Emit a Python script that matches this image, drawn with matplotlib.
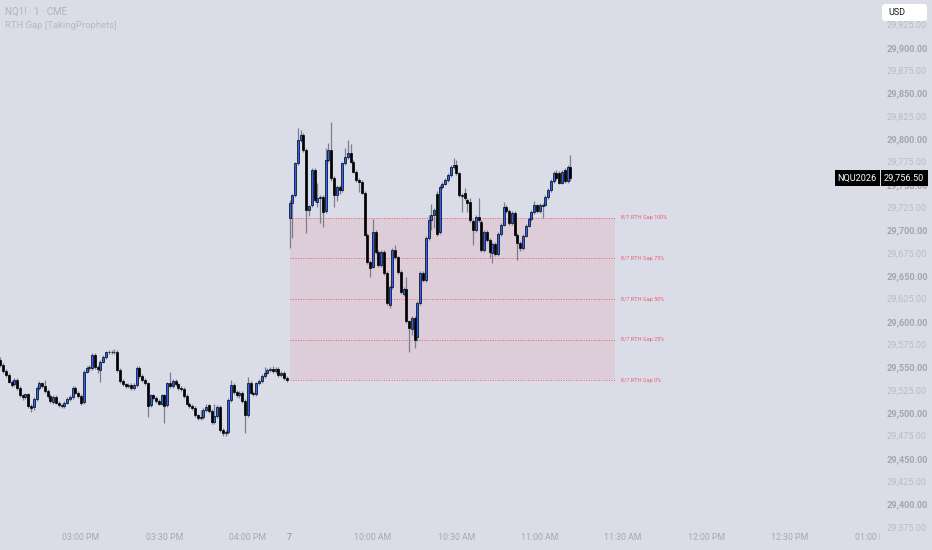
import numpy as np
import matplotlib.pyplot as plt
from matplotlib.patches import Rectangle, FancyBboxPatch

plt.rcParams['font.family'] = ['Roboto', 'DejaVu Sans']

BG = '#dadde8'
UP = '#2962ff'
WICK = '#7b7e88'
RED = '#f23645'

# 1-minute NQ bars: 14:31-16:14 of the prior session, then RTH from 09:30
OPENS = [
    29558, 29552, 29546, 29541, 29534, 29531, 29536, 29527, 29519, 29517,
    29520, 29507, 29506, 29515, 29527, 29532, 29529, 29524, 29518, 29512,
    29517, 29511, 29508, 29507, 29511, 29515, 29517, 29527, 29522, 29518,
    29512, 29545, 29549, 29549, 29563, 29550, 29547, 29556, 29561, 29566,
    29567, 29566, 29567, 29547, 29535, 29531, 29529, 29530, 29527, 29530,
    29549, 29540, 29536, 29532, 29508, 29519, 29516, 29513, 29510, 29519,
    29508, 29532, 29529, 29535, 29531, 29527, 29526, 29518, 29510, 29507,
    29505, 29497, 29494, 29495, 29503, 29508, 29502, 29490, 29496, 29506,
    29481, 29478, 29479, 29514, 29530, 29523, 29519, 29522, 29513, 29497,
    29533, 29522, 29520, 29532, 29535, 29540, 29544, 29547, 29548, 29546,
    29548, 29541, 29544, 29538,
    29713.25, 29730, 29738, 29773, 29799, 29804, 29788, 29722, 29727, 29766,
    29731, 29735, 29736, 29721, 29777, 29788, 29757, 29738, 29747, 29744,
    29773, 29780, 29784, 29775, 29764, 29755, 29753, 29741, 29695, 29665,
    29660, 29698, 29676, 29662, 29676, 29653, 29618, 29638, 29678, 29670,
    29654, 29630, 29636, 29600, 29592, 29604, 29583, 29620, 29653, 29645,
    29691, 29711, 29716, 29740, 29698, 29747, 29751, 29755, 29760, 29769,
    29771, 29762, 29738, 29741, 29733, 29731, 29710, 29700, 29714, 29709,
    29678, 29698, 29689, 29675, 29685, 29674, 29696, 29706, 29725, 29721,
    29708, 29719, 29695, 29686, 29680, 29694, 29705, 29712, 29720, 29727,
    29721, 29726, 29728, 29736, 29744, 29754, 29763, 29762, 29752, 29766,
    29754, 29769,
]
HIGHS = [
    29561, 29554, 29548, 29543, 29536, 29538, 29538, 29529, 29521, 29522,
    29522, 29509, 29517, 29529, 29535, 29534, 29536, 29526, 29520, 29519,
    29519, 29513, 29510, 29513, 29517, 29519, 29529, 29529, 29524, 29520,
    29547, 29551, 29552, 29565, 29565, 29552, 29558, 29563, 29568, 29569,
    29569, 29570, 29569, 29549, 29537, 29533, 29532, 29532, 29532, 29551,
    29551, 29542, 29538, 29534, 29521, 29521, 29518, 29515, 29521, 29521,
    29534, 29545, 29537, 29537, 29533, 29529, 29528, 29520, 29512, 29509,
    29507, 29499, 29503, 29505, 29510, 29510, 29504, 29510, 29508, 29508,
    29483, 29481, 29516, 29536, 29532, 29525, 29524, 29524, 29515, 29539,
    29535, 29524, 29534, 29537, 29542, 29550, 29549, 29550, 29551, 29550,
    29550, 29546, 29546, 29540,
    29733, 29740, 29775, 29812, 29810, 29806, 29790, 29728, 29768, 29768,
    29752, 29738, 29738, 29790, 29795, 29818, 29759, 29749, 29749, 29775,
    29790, 29799, 29794, 29777, 29766, 29757, 29755, 29743, 29697, 29667,
    29712, 29700, 29678, 29678, 29678, 29655, 29640, 29680, 29684, 29672,
    29656, 29638, 29649, 29602, 29606, 29606, 29622, 29655, 29655, 29693,
    29716, 29729, 29724, 29743, 29749, 29753, 29757, 29762, 29771, 29779,
    29777, 29764, 29741, 29746, 29735, 29735, 29712, 29716, 29735, 29711,
    29700, 29700, 29691, 29687, 29687, 29698, 29708, 29731, 29727, 29723,
    29721, 29721, 29697, 29688, 29696, 29707, 29714, 29722, 29732, 29729,
    29730, 29730, 29738, 29746, 29756, 29765, 29766, 29765, 29766, 29768,
    29771, 29782,
]
LOWS = [
    29550, 29544, 29539, 29532, 29528, 29529, 29525, 29517, 29514, 29515,
    29505, 29501, 29503, 29513, 29525, 29527, 29522, 29516, 29511, 29510,
    29509, 29506, 29505, 29505, 29509, 29513, 29515, 29520, 29516, 29508,
    29510, 29543, 29546, 29547, 29548, 29544, 29534, 29554, 29559, 29564,
    29564, 29564, 29545, 29533, 29529, 29527, 29527, 29525, 29525, 29528,
    29538, 29534, 29530, 29495, 29506, 29514, 29511, 29508, 29508, 29489,
    29506, 29527, 29527, 29529, 29525, 29524, 29516, 29508, 29505, 29503,
    29495, 29492, 29492, 29493, 29501, 29500, 29488, 29488, 29494, 29479,
    29475, 29475, 29477, 29512, 29521, 29517, 29516, 29511, 29478, 29495,
    29520, 29518, 29518, 29530, 29533, 29538, 29542, 29545, 29544, 29544,
    29539, 29539, 29536, 29534,
    29680, 29691, 29736, 29771, 29797, 29786, 29697, 29715, 29725, 29731,
    29725, 29708, 29703, 29719, 29775, 29754, 29725, 29732, 29740, 29742,
    29771, 29778, 29773, 29762, 29753, 29742, 29739, 29693, 29663, 29649,
    29658, 29674, 29660, 29660, 29651, 29618, 29615, 29636, 29668, 29652,
    29630, 29628, 29598, 29566, 29585, 29571, 29578, 29618, 29643, 29643,
    29689, 29700, 29702, 29693, 29696, 29745, 29749, 29753, 29758, 29767,
    29760, 29736, 29720, 29733, 29720, 29709, 29684, 29698, 29709, 29676,
    29676, 29687, 29669, 29664, 29672, 29672, 29694, 29704, 29719, 29706,
    29706, 29693, 29667, 29677, 29678, 29692, 29703, 29710, 29718, 29719,
    29719, 29713, 29726, 29734, 29742, 29752, 29755, 29750, 29750, 29752,
    29752, 29754,
]
CLOSES = [
    29552, 29546, 29541, 29534, 29530, 29536, 29527, 29519, 29517, 29520,
    29507, 29505, 29515, 29527, 29532, 29529, 29524, 29518, 29513, 29517,
    29511, 29508, 29507, 29511, 29515, 29517, 29527, 29522, 29518, 29511,
    29545, 29549, 29550, 29563, 29550, 29548, 29556, 29561, 29566, 29567,
    29566, 29567, 29547, 29535, 29531, 29529, 29530, 29527, 29530, 29549,
    29540, 29536, 29532, 29507, 29519, 29516, 29513, 29510, 29519, 29507,
    29532, 29529, 29535, 29531, 29527, 29526, 29518, 29510, 29507, 29505,
    29497, 29494, 29495, 29503, 29506, 29502, 29490, 29496, 29506, 29481,
    29478, 29479, 29514, 29530, 29523, 29519, 29522, 29513, 29497, 29533,
    29522, 29520, 29532, 29535, 29540, 29544, 29547, 29548, 29546, 29548,
    29541, 29544, 29538, 29535.75,
    29730, 29738, 29773, 29799, 29804, 29788, 29722, 29726, 29766, 29733,
    29735, 29736, 29720, 29777, 29788, 29757, 29738, 29747, 29744, 29773,
    29780, 29784, 29775, 29764, 29755, 29753, 29741, 29695, 29665, 29658,
    29698, 29676, 29662, 29676, 29653, 29620, 29638, 29678, 29670, 29654,
    29632, 29636, 29600, 29593, 29604, 29580, 29620, 29653, 29645, 29691,
    29711, 29716, 29722, 29696, 29747, 29751, 29755, 29760, 29769, 29771,
    29762, 29738, 29737, 29735, 29730, 29711, 29700, 29714, 29711, 29678,
    29698, 29689, 29676, 29685, 29674, 29696, 29706, 29725, 29721, 29708,
    29719, 29695, 29686, 29680, 29694, 29705, 29712, 29720, 29727, 29721,
    29728, 29728, 29736, 29744, 29754, 29762, 29757, 29752, 29764, 29754,
    29769, 29756.5,
]

RTH_START = 104          # bar index of the 09:30 open
GAP_END = 221            # bar index where the gap box stops
GAP_LEVELS = [0, 25, 50, 75, 100]

TIME_TICKS = [29, 59, 89, 104, 134, 164, 194, 224, 254, 284, 314]
TIME_LABELS = ['03:00 PM', '03:30 PM', '04:00 PM', '7', '10:00 AM', '10:30 AM',
               '11:00 AM', '11:30 AM', '12:00 PM', '12:30 PM', '01:00 PM']
PRICE_TICKS = np.arange(29375, 29926, 25)

o = np.array(OPENS, float)
h = np.array(HIGHS, float)
l = np.array(LOWS, float)
c = np.array(CLOSES, float)
x = np.arange(len(c))

W, H = 932, 550
fig = plt.figure(figsize=(W / 100, H / 100), dpi=100, facecolor=BG)
ax = fig.add_axes([0, 20 / H, 880 / W, 530 / H], facecolor=BG)
ax.set_xlim(-0.144, 316.4)
ax.set_ylim(29371.5, 29952.0)
for s in ax.spines.values():
    s.set_visible(False)

# gap box + levels
gap_lo = c[RTH_START - 1]
gap_hi = o[RTH_START]
ax.add_patch(Rectangle((RTH_START, gap_lo), GAP_END - RTH_START, gap_hi - gap_lo,
                       facecolor=RED, alpha=0.09, lw=0, zorder=1))
for pct in GAP_LEVELS:
    lvl = gap_lo + (gap_hi - gap_lo) * pct / 100
    ax.plot([RTH_START, GAP_END], [lvl, lvl], color=RED, lw=0.7, alpha=0.75,
            ls=(0, (1, 1.6)), zorder=2)
    ax.text(GAP_END + 2.3, lvl, f'8/7 RTH Gap {pct}%', color='#ef5d6a',
            fontsize=4, va='center', ha='left', zorder=3)

# candles
ax.vlines(x, l, h, color=WICK, lw=0.9, zorder=4)
up = c >= o
bottom = np.minimum(o, c)
height = np.maximum(np.abs(c - o), 0.6)
ax.bar(x, height, 0.72, bottom, color=np.where(up, UP, 'black'),
       edgecolor='black', linewidth=0.5, zorder=5)

# axes labels
ax.set_xticks(TIME_TICKS)
ax.set_xticklabels(TIME_LABELS)
ax.tick_params(axis='x', length=0, pad=2.5, labelsize=6.3, labelcolor='#a6a9b2')
ax.get_xticklabels()[3].set_color('#8a8d96')
ax.yaxis.tick_right()
ax.set_yticks(PRICE_TICKS)
ax.set_yticklabels([f'{p:,.2f}' for p in PRICE_TICKS])
ax.tick_params(axis='y', length=0, pad=5, labelsize=6.6)
for p, lab in zip(PRICE_TICKS, ax.get_yticklabels()):
    if p % 50 == 0:
        lab.set_color('#a2a5ae')
        lab.set_fontweight('bold')
    else:
        lab.set_color('#b9bcc4')

# overlay in pixel coordinates
ov = fig.add_axes([0, 0, 1, 1], zorder=10)
ov.set_xlim(0, W)
ov.set_ylim(H, 0)
ov.axis('off')
ov.patch.set_alpha(0)

ov.add_patch(Rectangle((880, 531), W - 880, H - 531, facecolor=BG, lw=0))
ov.text(5, 12, 'NQ1! · 1 · CME', fontsize=7, color='#b0b3bc', va='center')
ov.text(5, 25, 'RTH Gap [TakingProphets]', fontsize=6.8, color='#b6b9c2',
        va='center')

ov.add_patch(FancyBboxPatch((882, 4), 45, 17, boxstyle='round,pad=0,rounding_size=3',
                            facecolor='white', edgecolor='none'))
ov.text(888, 12.5, 'USD', fontsize=6.5, color='#131722', va='center')

last = c[-1]
y_last = H - ax.transData.transform((0, last))[1]
ov.add_patch(Rectangle((835, y_last - 8), 44.5, 16, facecolor='black', lw=0))
ov.add_patch(Rectangle((880.5, y_last - 8), 47.5, 16, facecolor='black', lw=0))
ov.text(857, y_last, 'NQU2026', fontsize=6.6, color='white', va='center',
        ha='center')
ov.text(904, y_last, f'{last:,.2f}', fontsize=6.6, color='white', va='center',
        ha='center')

fig.savefig('out.png', dpi=100, facecolor=BG)
